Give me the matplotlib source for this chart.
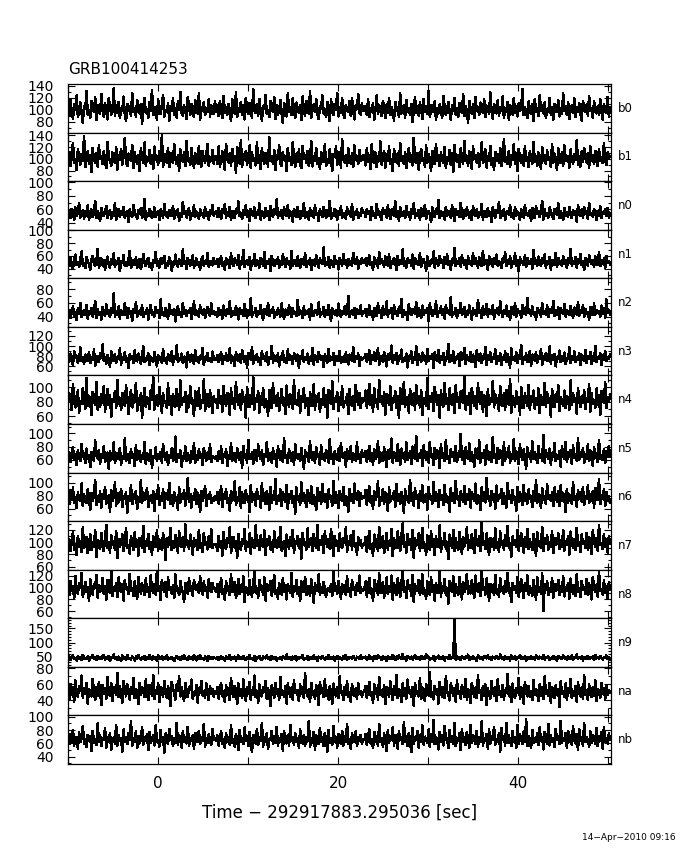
#!/usr/bin/env python
"""Curvas de luz GBM por detector (GRB100414253), 14 paneles apilados estilo PGPLOT.

    python3 plot.py  ->  out.png
"""
import numpy as np
import matplotlib
matplotlib.use("Agg")
import matplotlib.pyplot as plt
from matplotlib.ticker import MultipleLocator, NullFormatter

TITLE = "GRB100414253"
XLABEL = "Time \u2212 292917883.295036 [sec]"
STAMP = "14\u2212Apr\u22122010 09:16"
T0, T1 = -10.0, 50.2          # rango temporal de los datos (s)

DETS = ["b0", "b1", "n0", "n1", "n2", "n3", "n4", "n5", "n6", "n7", "n8", "n9", "na", "nb"]

# tasas (cts/s), una lista por detector
b0 = ("103 91 118 96 85 109 100 124 88 97 112 94 79 106 101 131 92 99 87 115 104 96 121 83 108 98 93 126 102 89 111 97 84 119 105 92 100 136 90 107 95 113 86 102 98 122 93 81 110 99 106 90 128 97 103 88 116 100 94 109 77 104 120 95 101 87 113 99 133 91 105 97 84 117 102 93 108 125 89 100 96 111 82 106 98 119 92 103 87 114 100 130 95 90 107 99 85 121 104 92 110 97 88 116 101 94 127 83 105 99 112 91 102 96 118 89 107 100 93 114 "
      "97 108 90 115 101 86 123 95 104 92 110 99 81 117 106 94 129 88 102 96 113 91 107 84 120 100 93 111 98 87 134 103 95 109 90 118 97 82 106 101 125 93 99 88 114 104 96 121 85 108 92 100 116 94 78 111 103 89 127 97 105 91 119 99 86 112 101 95 108 83 122 98 90 115 104 93 131 87 100 109 96 118 92 85 106 102 124 94 99 88 113 97 81 117 103 91 110 100 128 89 105 95 120 93 86 108 101 97 114 90 119 99 84 107 102 126 95 92 111 98 "
      "99 106 92 117 88 103 96 111 84 100 124 93 107 98 90 115 102 86 109 95 120 91 104 97 82 113 99 105 89 127 94 101 108 87 116 96 103 92 110 80 98 121 95 106 90 112 101 85 118 97 104 93 132 89 100 107 96 114 83 102 94 109 99 87 123 105 91 100 113 96 84 108 98 119 92 103 88 111 101 95 126 90 106 97 79 115 100 93 109 86 121 98 104 91 112 99 95 117 88 107 102 93 129 97 85 110 101 94 116 90 105 98 122 87 103 96 113 83 108 100 92 119 95 106 89 111 98 102 135 91 104 97 86 114 100 93 109 81 118 96 103 90 124 99 107 94 112 87 101 97 120 92 105 84 110 99 96 116 89 102 94 127 98 106 91 113 85 100 108 95 119 88 104 97 111 93 82 115 101 96 109 90 123 98 103 87 114 100 94 106 92 118 97 84 110 101 95 121 89 104")
b1 = ("95 112 88 104 127 93 99 81 116 102 90 108 97 139 86 101 113 92 106 78 119 98 94 110 87 123 100 105 91 114 96 84 129 103 97 89 111 100 93 120 82 107 99 117 90 104 135 95 88 109 102 96 124 85 112 98 91 106 79 118 101 94 128 89 103 97 115 92 107 83 121 99 105 90 113 96 140 87 101 108 94 119 86 110 98 93 125 100 91 106 80 116 103 95 111 88 131 97 102 90 118 99 84 109 104 92 122 96 87 113 100 94 107 126 89 101 97 115 92 105 "
      "104 91 121 87 99 113 95 82 126 101 94 109 88 117 97 105 76 120 100 92 132 86 108 98 114 90 103 123 85 111 96 101 89 129 94 106 83 118 99 92 110 102 87 137 97 104 91 115 81 107 100 124 93 88 112 98 105 79 119 96 103 90 128 101 86 109 95 116 92 84 122 100 107 94 113 89 98 130 87 104 97 119 91 102 83 111 106 95 125 88 100 93 117 97 80 108 103 121 90 96 112 85 134 99 94 106 89 118 101 92 110 87 123 98 104 91 115 96 100 107 "
      "102 89 118 95 107 83 125 98 93 111 86 104 97 130 90 101 114 85 108 96 121 92 99 79 116 103 94 109 88 127 97 105 91 112 84 100 119 95 107 89 136 98 93 110 82 104 117 96 101 87 123 94 108 99 80 114 102 91 126 97 106 88 111 100 93 120 85 103 97 115 90 109 78 124 99 95 107 86 118 101 92 131 96 104 89 113 98 83 121 100 107 94 110 87 102 128 93 99 116 85 105 97 122 90 101 82 112 96 108 93 119 88 100 134 95 103 91 114 86 106 98 125 92 109 80 117 101 94 107 89 121 97 103 86 113 99 92 129 95 104 88 111 100 83 120 96 107 91 115 98 102 87 126 94 109 97 81 118 100 93 112 89 123 101 96 105 85 116 98 92 108 99 132 90 104 87 113 95 119 102 94 110 84 121 97 106 91 114 100 88 117 96 103 93 127 98 90 111 101 105")
n0 = ("52 58 47 61 55 44 63 50 56 69 48 54 59 46 57 51 66 45 53 60 49 55 73 47 58 52 43 62 54 50 57 65 48 53 59 46 56 51 70 44 55 61 49 57 52 64 47 54 58 42 60 53 49 67 55 51 46 59 53 62 48 56 76 45 54 50 61 57 47 52 63 49 55 58 44 60 53 48 68 51 56 47 59 54 50 65 46 57 52 61 43 55 49 71 53 58 48 56 62 45 54 51 66 49 57 53 46 60 52 55 48 64 50 56 45 59 53 67 51 54 "
      "57 49 62 53 46 60 55 68 48 56 51 64 44 58 53 47 61 55 72 50 54 46 59 52 66 49 57 43 61 54 50 63 47 56 52 69 45 58 53 48 62 51 57 44 65 55 49 60 53 75 47 56 51 59 46 63 54 50 67 48 57 52 42 61 55 49 64 53 46 58 51 70 47 56 54 45 62 50 57 48 66 52 55 43 60 53 49 64 56 47 59 51 73 46 54 50 61 57 44 58 52 65 48 55 51 46 63 53 57 49 68 45 56 52 60 47 54 50 62 55 "
      "56 49 61 53 58 45 64 51 55 47 68 52 57 50 44 62 54 59 48 66 53 46 60 55 51 72 49 57 43 63 54 50 58 47 65 52 56 45 61 53 69 48 55 51 59 44 62 56 50 67 46 54 58 52 41 63 55 49 60 53 74 47 57 51 56 45 64 50 58 53 48 66 55 43 61 52 57 49 70 54 46 59 51 63 55 48 57 44 65 53 50 60 47 56 52 68 45 58 54 49 62 51 56 42 64 53 48 59 55 71 47 57 50 61 45 54 58 52 66 49 55 46 63 51 57 53 44 60 56 48 67 52 54 50 59 43 62 55 47 65 53 58 49 56 73 45 60 51 54 48 63 57 50 46 61 55 52 69 47 58 53 44 62 50 56 49 64 54 47 59 52 57 42 66 55 51 60 48 63 53 57 46 70 52 55 49 61 54 45 58 51 65 47 56 53 60 50 62 48 55")
n1 = ("51 44 57 48 40 53 62 46 50 43 55 67 45 49 41 58 52 47 38 54 60 49 44 51 71 42 48 56 45 53 39 50 59 46 42 55 48 64 43 51 47 57 36 52 49 61 44 50 45 54 68 41 48 53 46 58 42 50 55 40 47 63 49 44 52 57 43 48 39 54 50 66 45 51 42 56 47 53 60 41 49 45 58 52 37 50 46 62 48 43 55 51 44 70 47 52 40 57 49 45 53 61 42 48 56 46 50 39 54 59 44 51 47 65 43 49 52 45 57 48 "
      "48 55 43 52 59 45 50 38 57 47 53 41 64 49 44 56 51 46 61 40 52 48 69 43 50 54 46 58 39 51 47 63 44 53 49 42 57 50 45 66 41 52 48 55 37 60 49 44 53 47 58 42 51 46 62 50 43 56 48 52 40 67 45 50 54 44 59 48 41 55 49 46 64 43 52 47 57 38 53 50 45 61 48 42 56 51 47 73 44 50 46 58 41 54 49 43 60 47 52 39 57 50 45 63 48 53 42 55 46 51 44 65 49 47 58 40 52 48 56 50 "
      "49 56 44 52 61 46 50 39 58 47 53 42 66 48 55 51 43 59 49 45 63 41 52 47 57 50 38 60 46 54 48 70 44 51 42 56 49 53 45 62 40 57 48 52 46 65 43 50 55 47 37 59 51 44 53 49 67 42 56 48 45 60 50 54 41 58 47 63 46 52 39 55 49 72 44 51 48 57 43 61 50 46 54 40 59 48 52 45 64 47 56 49 42 58 51 44 68 46 53 50 38 60 48 55 43 57 47 62 45 52 49 41 56 50 66 44 53 47 59 42 51 48 64 45 54 36 58 49 52 46 61 43 57 50 47 55 40 69 48 53 45 59 51 44 56 49 62 42 52 47 58 39 54 50 46 65 43 57 48 51 44 60 47 53 41 56 50 71 45 52 48 58 42 55 49 63 46 51 38 57 49 45 61 52 47 54 43 59 50 46 66 44 53 48 56 41 60 49 52 47")
n2 = ("43 50 38 46 55 41 47 35 52 44 60 39 45 49 42 57 37 48 44 53 40 46 63 38 51 43 47 36 54 45 41 58 44 49 39 52 46 74 40 48 43 55 37 50 45 42 59 47 38 53 44 48 34 51 46 61 40 45 49 43 56 39 47 44 52 36 48 57 42 46 40 54 45 50 38 65 43 47 41 53 45 37 58 44 49 42 51 33 47 55 43 46 39 60 44 50 41 48 45 53 37 46 62 42 49 44 40 56 46 43 51 38 47 54 45 41 59 44 48 42 "
      "46 40 53 43 49 37 56 45 41 51 44 62 39 48 45 42 55 47 36 52 44 49 41 58 46 38 50 43 67 40 47 45 53 39 48 44 57 42 35 51 46 43 60 41 49 45 54 38 47 43 52 46 40 59 44 37 50 48 42 56 45 39 53 44 47 41 64 43 49 46 38 55 42 48 44 51 36 58 45 41 50 47 43 61 40 46 44 54 39 49 42 57 45 34 52 47 43 50 41 59 46 39 48 44 55 42 47 70 40 45 49 43 53 38 51 46 44 56 41 48 "
      "45 51 39 47 56 42 48 36 53 44 41 59 46 50 38 55 43 47 62 40 49 45 52 37 57 44 48 41 54 46 66 39 50 43 47 35 58 45 42 51 48 44 61 40 53 46 38 56 43 49 45 52 34 59 47 41 50 44 63 39 48 46 55 42 51 37 57 45 49 43 68 40 47 44 53 38 50 46 60 42 45 54 39 48 43 56 47 36 52 44 49 41 64 45 50 38 55 43 47 58 40 51 46 44 57 37 49 45 53 42 62 47 39 50 44 56 41 48 35 54 46 43 59 40 51 45 48 38 57 44 52 42 67 46 49 41 55 43 47 36 53 45 50 40 60 44 48 42 56 39 51 46 45 63 41 49 43 54 37 52 47 44 58 40 50 46 42 55 45 38 53 48 43 61 41 49 45 57 39 51 44 47 36 54 46 42 59 43 50 45 48 40 56 44 52 38 65 46 49 43")
n3 = ("78 69 85 73 62 90 76 81 67 74 97 71 79 64 83 75 70 88 66 77 72 93 61 80 74 68 86 76 103 70 78 65 82 73 59 89 77 71 84 67 75 80 95 63 78 72 87 69 76 57 83 74 79 66 91 73 70 85 77 64 81 99 68 75 72 86 62 79 74 69 88 76 60 82 73 78 67 94 71 77 65 84 75 70 90 63 80 74 101 68 76 72 85 66 79 73 58 87 75 69 83 77 64 92 71 78 67 81 74 96 62 79 73 86 70 76 68 89 75 72 "
      "73 82 68 77 88 64 79 72 85 70 76 95 66 80 74 61 87 78 71 83 67 92 75 69 81 58 86 77 73 98 65 79 72 84 68 76 63 90 74 80 70 87 62 78 75 100 67 82 71 77 85 60 79 73 89 69 76 66 93 72 81 74 64 86 78 70 83 57 80 75 91 68 77 73 85 65 79 71 96 63 82 74 69 88 76 72 80 59 84 75 67 94 71 78 73 86 62 81 70 77 90 66 75 79 68 87 73 64 83 76 71 97 69 80 74 85 61 78 72 76 "
      "76 84 68 79 91 65 81 72 87 70 77 96 63 80 74 69 88 75 60 83 72 78 101 67 82 73 86 64 79 75 93 68 77 71 85 58 80 74 90 66 78 72 99 62 84 76 69 87 73 81 65 94 71 79 74 83 57 88 76 70 92 67 80 73 86 63 78 75 104 69 82 71 89 66 77 74 84 61 87 72 79 96 64 81 75 70 88 68 83 73 59 91 76 71 85 67 79 74 98 63 82 72 87 69 78 75 93 65 80 71 86 62 77 73 89 68 84 76 58 95 72 79 70 87 66 81 74 102 64 78 73 85 69 76 90 61 83 75 71 88 67 80 74 94 63 79 72 86 70 77 99 65 82 73 84 60 78 75 91 68 81 71 87 64 76 74 97 66 80 72 89 69 78 73 85 62 83 76 70 92 67 79 74 88 65 81 71 100 68 77 75 86 63 82 73 90 70 78 74 84")
n4 = ("76 91 83 68 104 79 72 87 95 64 81 77 99 85 70 112 74 88 80 61 93 82 76 107 69 86 73 90 78 101 66 84 97 75 89 59 83 79 94 71 110 77 85 68 92 80 74 102 87 63 81 96 72 78 88 106 67 84 76 91 58 83 99 73 86 79 70 95 82 115 69 77 89 74 100 84 65 92 78 81 71 105 76 87 62 90 80 73 97 85 68 109 75 83 79 93 66 88 72 101 81 77 60 94 86 74 98 70 82 78 111 67 85 90 73 96 79 64 87 80 "
      "83 71 96 78 88 66 101 80 74 92 85 62 98 77 84 70 107 81 75 90 68 95 79 86 57 100 82 73 89 77 113 69 84 80 94 65 87 76 99 72 83 79 60 96 85 71 105 78 88 74 92 67 81 97 76 84 63 102 80 73 90 86 70 109 77 82 75 95 64 88 79 99 71 85 78 61 93 81 74 104 69 87 80 91 66 83 76 98 73 89 58 96 82 77 108 70 84 79 93 67 86 75 101 72 81 78 90 63 97 80 74 88 68 103 83 76 92 71 85 80 "
      "81 95 72 86 104 75 89 66 98 78 83 70 110 79 87 74 93 62 90 80 76 101 68 85 79 94 71 88 57 99 82 77 107 73 86 80 65 97 84 75 91 69 103 78 88 72 96 61 85 81 74 112 70 87 79 92 67 100 83 76 89 58 95 80 73 106 77 84 68 98 82 75 90 64 102 79 86 71 94 81 78 116 69 88 76 91 63 99 83 74 87 70 105 80 77 93 66 89 82 60 97 75 85 79 108 72 90 78 84 67 101 81 74 92 69 96 80 76 111 65 88 83 73 94 77 86 62 100 79 71 91 82 74 103 68 87 80 95 70 84 76 98 64 89 81 75 106 72 93 78 85 59 97 82 73 90 79 102 67 86 80 74 95 71 88 83 69 109 76 92 79 84 63 99 81 73 87 78 96 70 85 80 104 66 91 77 82 72 98 75 89 61 94 83 78 107 71 86 79 90")
n5 = ("62 71 57 66 79 60 68 52 74 63 58 84 65 70 55 77 61 67 49 72 64 59 89 66 62 75 54 69 63 81 57 65 71 47 73 60 67 86 56 64 70 61 78 53 66 62 92 58 69 64 55 76 63 68 51 82 60 65 73 57 67 62 87 54 70 64 59 75 48 66 63 79 58 69 61 72 56 84 65 60 71 53 67 64 77 59 62 95 57 68 63 74 50 66 61 80 58 70 64 56 73 62 85 55 67 60 76 63 69 52 78 65 59 71 61 83 57 66 64 62 "
      "66 58 73 62 80 55 69 64 76 51 67 61 85 59 70 63 57 78 65 60 72 48 81 64 68 56 90 62 66 71 54 75 63 59 83 67 61 74 52 69 65 87 58 64 70 56 77 62 68 50 80 66 60 73 57 93 63 67 55 76 64 59 71 53 84 66 62 69 58 78 61 47 74 65 70 57 88 63 60 72 55 79 67 64 52 82 61 68 59 75 66 56 91 62 69 54 73 64 60 77 58 85 65 63 71 50 76 67 61 80 57 70 64 59 86 62 68 55 74 65 "
      "64 73 57 68 81 59 70 53 76 62 66 88 55 71 63 58 79 65 49 74 61 68 92 56 72 64 59 83 67 52 77 63 70 57 86 60 66 73 54 80 65 62 95 58 69 63 75 51 82 66 60 71 56 87 64 68 53 78 61 74 67 48 84 63 70 58 90 62 66 55 76 64 72 59 81 57 69 65 99 60 73 54 79 66 62 85 58 71 64 50 77 67 61 89 56 70 63 74 53 82 65 60 72 57 94 63 68 55 78 61 75 66 52 86 59 71 64 80 56 69 62 91 58 73 65 54 83 67 60 76 63 47 79 64 70 57 88 61 72 66 55 81 63 68 59 97 56 74 65 62 77 53 70 64 85 58 67 61 73 50 80 66 62 87 57 71 64 75 54 82 63 69 59 93 60 72 65 78 56 68 61 84 58 74 66 51 79 63 70 57 90 62 67 60 76 55 73 64 81 65")
n6 = ("80 67 88 74 93 70 78 61 85 76 72 99 64 82 75 69 90 77 58 84 73 80 105 66 79 71 87 62 83 76 94 68 74 81 56 89 72 78 101 65 84 70 77 91 63 80 75 86 54 79 73 97 67 82 76 88 60 78 71 104 69 85 74 79 92 63 76 81 70 87 57 83 75 96 66 79 72 90 61 84 77 74 100 68 81 64 86 73 78 59 93 70 82 76 89 65 77 107 71 83 62 80 74 91 67 85 78 55 88 72 79 95 64 81 75 86 69 77 73 80 "
      "74 86 68 79 95 63 82 76 90 70 77 57 88 73 81 102 66 78 72 93 61 85 76 69 89 74 80 55 96 71 83 77 65 91 75 79 62 99 72 84 68 87 76 59 94 70 81 74 106 67 78 73 90 64 86 77 71 97 60 82 75 88 69 79 53 93 74 80 66 101 72 84 76 63 89 78 70 95 68 81 75 58 92 73 86 67 98 77 71 83 62 90 76 79 65 103 70 85 74 61 88 78 72 94 66 80 75 56 91 73 82 69 99 77 74 87 64 84 76 78 "
      "77 89 66 82 95 70 79 60 87 74 81 102 64 78 72 91 68 85 76 57 93 71 80 75 88 63 98 73 82 67 86 77 54 90 74 79 69 105 72 84 65 92 76 81 61 88 73 96 70 78 83 59 94 75 80 68 101 72 86 77 63 89 74 81 66 97 71 79 76 56 92 73 84 69 103 75 80 64 87 78 71 95 67 82 74 90 62 85 77 72 99 68 81 76 58 93 73 86 70 108 75 79 65 88 74 83 60 96 72 80 77 91 67 84 73 62 100 76 81 69 89 74 78 57 94 71 85 76 66 97 73 82 68 90 75 79 63 87 72 104 70 83 77 61 92 74 80 67 98 76 81 72 86 64 93 78 71 88 65 96 73 84 75 55 91 70 82 77 68 101 74 79 63 89 76 85 71 94 66 80 75 97 69 83 72 87 62 92 77 74 106 67 81 76 90 64 86 73 79 70")
n7 = ("91 104 86 99 117 88 96 79 110 93 101 84 124 90 98 108 82 95 113 87 100 92 120 76 103 94 89 115 97 85 106 128 91 99 83 111 96 102 88 118 74 105 93 97 112 86 100 122 90 95 81 109 98 87 116 93 103 78 107 96 91 126 84 101 94 113 89 99 80 110 97 92 119 86 104 95 88 114 100 71 106 93 98 123 87 102 90 111 96 83 117 99 92 108 85 129 95 101 89 112 97 80 106 94 103 87 120 91 98 84 115 96 100 88 109 93 121 90 97 95 "
      "97 85 110 92 101 78 116 94 89 106 99 124 83 96 108 91 102 75 113 95 88 105 97 121 86 100 93 114 81 107 96 90 127 94 103 87 111 98 92 119 79 104 95 109 88 100 84 117 97 91 106 93 125 86 99 102 77 112 96 89 108 94 120 83 101 97 110 90 104 73 115 95 100 88 122 92 98 106 85 113 96 91 128 87 103 95 109 82 117 99 93 105 89 121 97 78 110 94 102 86 114 96 90 107 99 124 84 101 95 111 88 118 93 98 80 108 96 103 91 97 "
      "96 108 84 101 118 89 97 78 112 93 104 86 125 91 99 110 82 96 115 88 102 94 121 77 106 95 90 117 98 85 109 130 92 100 83 113 96 104 87 120 75 107 94 99 114 86 101 123 90 97 80 111 98 88 118 93 105 79 109 96 92 127 84 102 95 115 89 100 72 112 97 91 120 86 106 94 87 116 101 81 108 93 99 124 88 103 91 113 96 82 119 98 94 110 85 132 95 102 89 114 97 79 107 93 105 87 122 91 99 84 117 96 101 88 111 94 126 90 98 76 109 95 103 92 119 86 100 115 97 83 108 93 121 89 104 96 87 113 99 78 116 94 102 90 125 85 106 97 111 88 100 92 118 82 107 95 98 114 89 103 93 120 86 101 96 109 80 117 98 91 105 87 123 94 99 84 112 97 102 90 115 88 108 95 81 119 100 93 106 86 128 96 98 89 113 92 104 83 110 97")
n8 = ("98 87 111 94 103 82 119 96 90 107 100 125 85 97 109 92 101 77 114 95 88 106 99 121 83 104 93 97 116 89 102 80 112 96 91 127 86 100 94 108 84 117 98 92 105 78 113 97 101 89 123 94 99 86 110 95 81 118 102 90 107 96 87 115 93 100 84 120 97 91 106 88 129 95 103 79 112 98 93 109 85 117 96 101 90 104 82 122 94 99 87 111 97 92 75 108 100 89 116 95 102 86 113 98 96 105 91 119 96 88 110 94 100 83 114 97 92 107 99 96 "
      "93 106 84 99 115 90 97 79 110 95 102 87 122 92 100 109 82 96 114 89 104 93 119 76 101 97 88 112 94 85 107 126 91 98 83 113 96 103 87 117 78 105 94 100 111 86 99 121 90 95 81 108 97 88 116 93 104 80 106 98 91 124 85 102 94 112 89 100 77 110 96 92 118 87 103 95 86 114 99 74 107 94 97 122 88 101 91 109 96 84 98 98 93 106 86 128 95 102 89 111 97 81 105 93 104 88 119 92 99 85 113 96 100 87 108 94 120 91 97 95 "
      "97 110 85 102 116 90 98 77 113 94 105 87 124 91 100 109 83 96 117 89 103 93 120 79 107 95 88 115 99 84 108 129 92 101 82 112 97 104 86 121 76 106 94 100 113 87 102 122 89 96 81 110 98 88 117 92 104 78 108 97 91 126 85 103 95 114 88 99 73 111 96 92 119 86 105 94 87 118 100 80 109 93 98 123 89 102 90 112 95 83 120 99 93 107 86 131 96 101 88 115 98 78 106 92 104 87 121 90 97 85 116 95 100 89 110 93 125 91 99 75 108 96 102 91 118 85 101 114 97 82 107 94 120 88 103 95 86 112 98 79 117 93 101 90 124 60 105 96 110 87 99 92 116 83 106 94 97 113 88 102 92 119 85 100 95 108 81 115 97 90 104 86 122 93 98 84 111 96 101 89 114 87 107 94 80 118 99 92 105 85 127 95 97 88 112 91 103 82 109 96")
n9 = ("45 51 40 47 54 42 46 37 52 43 48 39 57 44 46 41 51 36 49 45 55 42 47 38 53 45 41 50 44 56 39 47 43 52 35 48 45 58 41 47 38 50 45 34 54 44 49 40 57 43 46 40 51 45 37 50 42 55 45 40 48 44 53 38 47 41 56 45 39 51 43 49 36 54 45 42 52 40 47 43 55 38 46 43 49 44 34 45 53 41 47 39 51 44 57 42 46 38 52 43 48 40 55 45 37 50 44 56 41 46 39 50 45 35 53 43 49 42 47 45 "
      "44 49 39 46 53 41 47 36 51 45 42 56 40 48 44 50 37 46 54 43 47 41 52 45 38 49 44 57 42 46 40 51 35 48 45 53 43 39 50 46 44 55 41 47 38 52 45 42 49 36 44 44 47 40 51 46 43 58 41 48 45 39 50 44 53 37 47 42 49 45 56 40 46 43 51 38 48 45 41 54 44 47 36 50 46 42 52 45 39 48 43 55 41 47 44 50 37 46 53 42 48 45 40 51 43 57 39 47 44 49 41 52 46 38 50 45 43 54 42 47 "
      "46 50 40 47 55 42 48 37 52 44 41 57 45 49 39 53 43 47 35 51 44 48 42 56 46 38 50 43 54 45 41 59 44 48 36 52 46 43 50 40 47 55 42 45 49 38 53 44 47 41 58 45 50 39 46 43 52 37 48 45 54 41 47 44 51 36 49 46 42 56 43 48 45 183 40 52 44 47 38 53 45 42 50 46 57 39 48 44 51 41 46 35 54 45 43 49 40 52 47 44 55 42 48 38 50 45 43 53 46 41 58 44 47 39 51 45 42 49 37 54 46 43 50 40 48 45 56 42 47 44 52 36 49 46 41 53 44 48 39 55 45 42 50 47 43 57 40 48 45 51 38 46 44 53 42 49 36 52 45 47 41 55 44 48 39 50 46 43 54 40 47 45 58 42 49 44 51 37 48 46 43 53 41 47 45 50 38 56 44 48 42 52 46 40 49 45 54 43 47 44")
na = ("53 41 60 47 56 38 65 50 44 58 52 71 43 55 48 62 36 54 49 45 67 51 40 57 46 63 53 34 59 48 55 42 69 50 46 61 39 56 52 47 74 44 58 49 37 64 53 45 60 51 41 57 48 68 43 54 50 35 62 47 56 52 44 66 49 40 59 55 46 72 42 53 48 61 38 57 51 45 64 50 43 58 47 33 63 54 49 41 60 52 70 45 56 48 39 62 51 44 57 53 66 42 50 47 59 37 55 49 64 46 52 43 61 50 40 58 48 54 45 51 "
      "48 57 42 53 62 45 51 38 59 47 55 40 68 49 44 58 52 35 61 46 54 43 66 50 39 56 48 63 41 53 47 71 44 52 37 60 49 45 57 51 64 42 55 46 33 59 50 43 62 48 54 40 69 47 52 44 58 36 61 50 45 56 41 65 49 53 46 39 60 48 57 43 74 51 45 54 38 62 47 52 42 59 49 34 63 50 55 44 67 46 53 41 58 48 36 61 51 45 56 43 70 49 52 40 57 47 64 44 50 38 60 53 46 55 42 62 48 51 45 50 "
      "51 58 43 54 63 46 50 37 60 48 55 41 69 47 53 44 59 35 56 49 45 64 52 40 58 47 72 43 54 50 38 61 46 55 42 66 49 53 44 57 33 62 48 51 45 68 42 56 47 39 60 52 46 75 44 50 41 58 48 54 36 63 49 45 57 43 70 51 47 40 61 53 46 55 38 65 48 52 42 59 50 44 67 41 54 47 37 62 51 45 56 43 71 49 53 40 58 46 60 34 55 48 42 64 50 46 57 39 66 47 52 44 59 41 53 49 73 45 56 38 61 48 43 55 50 68 42 57 46 36 63 51 45 58 44 52 40 65 47 54 49 39 60 45 56 42 70 48 53 46 62 37 57 50 43 59 47 54 32 64 48 51 44 61 41 55 49 67 43 52 46 58 38 63 50 45 56 42 71 47 53 40 60 49 44 57 46 65 39 54 51 43 62 48 55 41 58 47 52 50")
nb = ("68 59 74 63 80 57 70 65 52 77 62 69 86 60 66 55 73 64 71 49 79 61 67 58 90 63 72 56 68 65 83 54 70 62 76 51 66 69 60 88 57 73 64 67 48 81 62 70 59 75 65 93 56 68 63 78 53 71 60 66 84 58 69 64 74 50 77 61 67 72 57 87 63 65 55 80 62 70 46 75 64 59 82 66 71 56 68 61 91 58 73 65 54 78 63 69 60 85 57 67 64 72 52 76 66 62 79 59 70 64 89 55 68 61 74 63 58 81 65 67 "
      "64 72 57 69 78 60 66 53 75 63 70 58 87 61 67 55 74 65 50 80 62 68 59 84 64 71 56 77 63 47 73 66 60 82 58 69 64 91 55 70 62 76 52 67 65 79 59 71 61 85 57 68 63 74 49 78 66 60 72 56 88 64 69 58 75 62 67 53 81 65 60 73 57 70 63 94 55 68 61 77 51 72 66 59 83 62 69 56 76 64 48 80 61 67 58 86 63 70 54 74 65 60 79 57 71 63 89 59 66 52 75 68 62 78 56 69 64 73 60 66 "
      "65 74 58 69 81 60 67 53 77 63 71 57 89 62 68 55 75 64 49 80 61 70 66 84 57 73 63 52 78 65 69 59 92 62 71 56 76 64 47 83 60 68 65 79 54 72 63 87 58 70 66 61 81 55 74 63 95 59 69 64 51 77 62 72 57 86 65 68 53 80 63 71 60 90 56 67 64 75 50 82 62 69 58 77 66 54 88 61 73 65 59 79 55 70 63 93 57 68 64 74 52 81 60 71 66 85 58 67 62 76 48 83 65 70 57 91 61 72 64 56 79 63 69 54 87 60 74 66 59 78 62 96 56 71 65 53 80 61 68 63 75 58 84 64 70 51 77 66 60 89 57 73 62 68 55 82 65 71 59 94 61 67 64 76 53 79 63 72 58 86 66 60 74 50 81 64 69 57 90 62 70 65 55 78 61 73 67 59 83 56 71 64 77 52 85 63 68 60 75 66")

RATES = [b0, b1, n0, n1, n2, n3, n4, n5, n6, n7, n8, n9, na, nb]

# rango vertical y ticks rotulados de cada panel
YLIMS = [(62, 143), (62, 145), (30, 102), (25, 101), (25, 96), (42, 138), (49, 116),
         (41, 114), (41, 116), (55, 134), (48, 130), (14, 186), (21, 82), (29, 102)]
YTICKS = [[80, 100, 120, 140], [80, 100, 120, 140], [40, 60, 80, 100], [40, 60, 80, 100],
          [40, 60, 80], [60, 80, 100, 120], [60, 80, 100], [60, 80, 100], [60, 80, 100],
          [60, 80, 100, 120], [60, 80, 100, 120], [50, 100, 150], [40, 60, 80],
          [40, 60, 80, 100]]

W, H = 680, 850
X0, X1, Y0, Y1 = 68, 611, 84, 764   # caja de paneles en píxeles


def main():
    plt.rcParams["font.family"] = "DejaVu Sans"
    fig = plt.figure(figsize=(W / 100, H / 100), dpi=100)
    ph = (Y1 - Y0) / len(DETS)
    for i, (det, raw) in enumerate(zip(DETS, RATES)):
        y = np.array(raw.split(), dtype=float)
        t = np.linspace(T0, T1, len(y))
        top = Y0 + i * ph
        ax = fig.add_axes([X0 / W, 1 - (top + ph) / H, (X1 - X0) / W, ph / H])
        # trazo de 1 px sin suavizado, como el dispositivo de PGPLOT
        ax.plot(t, y, color="black", lw=1.1, antialiased=False)
        ax.set_xlim(T0, 50.3)
        ax.set_ylim(*YLIMS[i])
        ax.set_yticks(YTICKS[i])
        ax.yaxis.set_minor_locator(MultipleLocator(10))
        ax.xaxis.set_major_locator(MultipleLocator(20))
        ax.xaxis.set_minor_locator(MultipleLocator(10))
        ax.tick_params(which="both", direction="in", top=True, right=True, width=0.8,
                       color="black")
        ax.tick_params(which="major", length=5)
        ax.tick_params(which="minor", length=2.5)
        ax.tick_params(axis="x", which="minor", length=5)
        ax.tick_params(axis="y", labelsize=10, pad=10.5)
        if i < len(DETS) - 1:
            ax.xaxis.set_major_formatter(NullFormatter())
        else:
            ax.tick_params(axis="x", labelsize=11, pad=9)
        for s in ax.spines.values():
            s.set_linewidth(0.9)
        fig.text(618 / W, 1 - (top + ph / 2) / H, det, fontsize=8.5, va="center", ha="left")

    fig.text(X0 / W, 1 - 70 / H, TITLE, fontsize=11, ha="left", va="center")
    fig.text((X0 + X1) / 2 / W, 1 - 813 / H, XLABEL, fontsize=12, ha="center", va="center")
    fig.text(676 / W, 1 - 838 / H, STAMP, fontsize=6.5, ha="right", va="center")
    fig.savefig("out.png", dpi=100)
    plt.close(fig)


if __name__ == "__main__":
    main()
